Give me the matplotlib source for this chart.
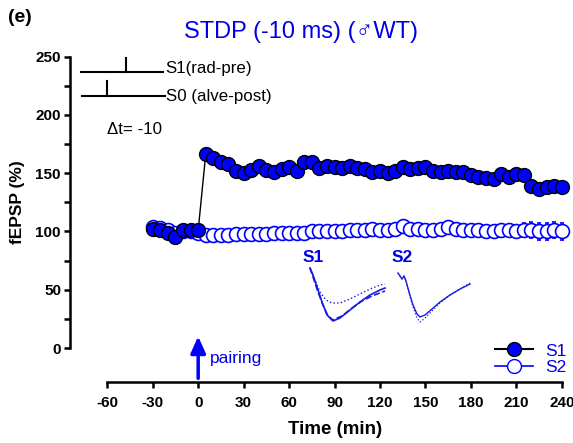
import matplotlib

matplotlib.use("Agg")
import matplotlib.pyplot as plt
import numpy as np
from matplotlib.lines import Line2D

FONTE = ["Liberation Sans", "DejaVu Sans"]
AZUL = "#0000e6"

# tempo (min), um ponto a cada 5 min
tempo = np.arange(-30, 241, 5)

# S1 (via pareada) e S2 (controle), fEPSP em % do basal
s1 = [102, 101, 99, 95, 101, 101, 101,
      166.6, 162.6, 159.7, 157.8, 152, 149.7, 153, 155.8, 153, 150.6,
      153.4, 154.9, 152, 159.2, 159.2, 154, 156.3, 154.9, 154, 156.3,
      154, 153.4, 151.1, 152, 149.7, 152, 154.9, 153.4, 154.2, 154.9,
      152, 151.1, 152, 150.6, 150.6, 148.3, 146.3, 145.4, 144.8, 149.1,
      146.3, 149.1, 148.3, 139, 136.2, 138.5, 139, 137.7]
s1_err = [2, 2, 2, 3, 2, 2, 2,
          4, 3, 3, 3, 3, 3, 3, 3, 3, 3,
          3, 3, 3, 3, 3, 3, 3, 3, 3, 3,
          3, 3, 3, 3, 3, 3, 3, 3, 3, 3,
          3, 3, 3, 3, 3, 3, 3, 3, 3, 3,
          3, 3, 3, 4, 4, 4, 4, 4]
s2 = [104, 103, 101, 99, 100, 100, 99,
      97, 97, 97, 97, 98, 98, 98, 98, 98, 99,
      99, 99, 99, 99, 100, 100, 100, 100, 100, 101,
      101, 101, 102, 101, 101, 102, 105, 102, 102, 101,
      101, 102, 104, 102, 101, 101, 101, 100, 100, 101,
      101, 100, 101, 101, 100, 100, 101, 100]
s2_err = [2, 2, 2, 2, 2, 2, 2,
          2, 2, 2, 2, 2, 2, 2, 2, 2, 2,
          2, 2, 2, 2, 2, 2, 2, 2, 2, 2,
          2, 2, 2, 2, 2, 2, 3, 2, 2, 2,
          2, 2, 3, 2, 3, 3, 3, 3, 3, 4,
          4, 5, 6, 7, 7, 7, 7, 7]

# traços representativos (ms, mV)
s1_t = [0, 0.75, 2, 3.25, 4.5, 5.75, 7.5, 10, 12.5, 15, 17.5, 18.75]
s1_pos = [0, -0.35, -1.1, -1.85, -2.4, -2.65, -2.5, -2.1, -1.7, -1.35, -1.1, -1.0]
s1_base_t = [0, 1, 2.5, 4, 5.5, 7.5, 10, 12.5, 15, 17.5, 18.75]
s1_base = [0, -0.5, -1.2, -1.6, -1.75, -1.75, -1.55, -1.3, -1.05, -0.85, -0.8]
s1_tard_t = [0, 2, 4.25, 5.75, 8, 10.5, 13, 15.5, 18.75]
s1_tard = [0, -1.2, -2.35, -2.6, -2.4, -2.0, -1.65, -1.4, -1.15]
s2_t = [0, 0.5, 1, 1.5, 2, 2.75, 3.75, 4.75, 5.5, 6.75, 8.5, 10.5, 13, 15.5, 18]
s2_pos = [0, -0.15, -0.3, -0.15, -0.4, -0.95, -1.6, -2.05, -2.2, -2.1, -1.8,
          -1.45, -1.1, -0.8, -0.55]
s2_base_t = [0, 0.5, 1, 1.5, 2, 2.75, 3.75, 4.75, 5.5, 6.5, 8.5, 10.5, 13, 15.5, 18]
s2_base = [0, -0.15, -0.3, -0.15, -0.4, -1.0, -1.7, -2.25, -2.45, -2.3, -1.9,
           -1.5, -1.1, -0.8, -0.5]

plt.rcParams["font.family"] = FONTE
plt.rcParams["axes.unicode_minus"] = False

fig = plt.figure(figsize=(5.73, 4.43), dpi=100)
ax = fig.add_axes([0.1222, 0.137, 0.8635, 0.7486])

ax.errorbar(tempo, s2, yerr=s2_err, fmt="-o", color="blue", lw=1, ms=10,
            mfc="white", mec="blue", mew=1.2, ecolor="blue", elinewidth=1,
            capsize=1.5, clip_on=False, zorder=2)
ax.errorbar(tempo, s1, yerr=s1_err, fmt="-o", color="black", lw=1, ms=10,
            mfc="blue", mec="black", mew=1, ecolor="black", elinewidth=1,
            capsize=1.5, clip_on=False, zorder=3)

ax.set_xlim(-84.6, 242)
ax.set_ylim(-29.4, 255)
for lado in ("top", "right"):
    ax.spines[lado].set_visible(False)
ax.spines["left"].set_bounds(0, 250)
ax.spines["bottom"].set_bounds(-60, 240)
for lado in ("left", "bottom"):
    ax.spines[lado].set_linewidth(1.8)
ax.set_xticks(np.arange(-60, 241, 30))
ax.set_yticks(np.arange(0, 251, 50))
ax.set_yticks(np.arange(25, 250, 50), minor=True)
ax.tick_params(which="both", width=1.8, length=4.5, labelsize=11)
ax.tick_params(axis="y", pad=2)
ax.tick_params(axis="x", pad=5)
for rotulo in ax.get_xticklabels() + ax.get_yticklabels():
    rotulo.set_fontweight("bold")

# esquema do protocolo
ax.plot([-77.4, -23.2], [236.7, 236.7], color="black", lw=1.5)
ax.plot([-47.7, -47.7], [236.7, 248.7], color="black", lw=1.5)
ax.plot([-76.7, -21.9], [216.1, 216.1], color="black", lw=1.5)
ax.plot([-60.2, -60.2], [216.1, 229], color="black", lw=1.5)
ax.text(-21.5, 240, "S1(rad-pre)", fontsize=12.2, va="center")
ax.text(-21.5, 216, "S0 (alve-post)", fontsize=12.2, va="center")
ax.text(-60, 187, "Δt= -10", fontsize=12.2, va="center")

# pareamento
ax.annotate("", xy=(0, 10), xytext=(0, -26),
            arrowprops=dict(arrowstyle="-|>,head_length=1.0,head_width=0.45",
                            color="blue", lw=2.5, shrinkA=0, shrinkB=0))
ax.text(7.5, -8.6, "pairing", fontsize=12.5, color=AZUL, va="center")

h1 = Line2D([0], [0], color="black", lw=1.5, marker="o", ms=10, mfc="blue", mec="black")
h2 = Line2D([0], [0], color="blue", lw=1.2, marker="o", ms=10, mfc="white", mec="blue")
ax.legend([h1, h2], ["S1", "S2"], loc="center left", bbox_to_anchor=(495 / 573, 1 - 359 / 443),
          bbox_transform=fig.transFigure, frameon=False, labelcolor=AZUL, fontsize=12.5,
          handlelength=2.2, handletextpad=0.7, labelspacing=0.05, borderpad=0, borderaxespad=0)

# inset com os traços
ins = fig.add_axes([300 / 573, (443 - 330) / 443, 180 / 573, 75 / 443])
ins.axis("off")
ins.set_xlim(-2.5, 42.5)
ins.set_ylim(-3.1, 0.65)
ins.plot(s1_t, s1_pos, color="#1a1ae0", lw=1.2)
ins.plot(s1_tard_t, s1_tard, color="#1a1ae0", lw=1.2, ls="--")
ins.plot(s1_base_t, s1_base, color="#1a1ae0", lw=1, ls=":")
ins.plot(np.array(s2_t) + 22, np.array(s2_pos) - 0.25, color="#1a1ae0", lw=1)
ins.plot(np.array(s2_base_t) + 22, np.array(s2_base) - 0.25, color="#1a1ae0", lw=0.9, ls=":")
ins.text(0.75, 0.55, "S1", fontsize=12.5, fontweight="bold", color=AZUL, ha="center", va="center")
ins.text(23, 0.55, "S2", fontsize=12.5, fontweight="bold", color=AZUL, ha="center", va="center")

fig.text(301 / 573, 1 - 32 / 443, "STDP (-10 ms) (♂WT)", fontsize=17, color=AZUL,
         ha="center", va="center")
fig.text(8 / 573, 1 - 18 / 443, "(e)", fontsize=14, fontweight="bold", va="center")
fig.text(18 / 573, 1 - 202 / 443, "fEPSP (%)", fontsize=12.5, fontweight="bold",
         rotation=90, ha="center", va="center")
fig.text(335 / 573, 1 - 430 / 443, "Time (min)", fontsize=13.5, fontweight="bold",
         ha="center", va="center")

fig.savefig("out.png", dpi=100)
